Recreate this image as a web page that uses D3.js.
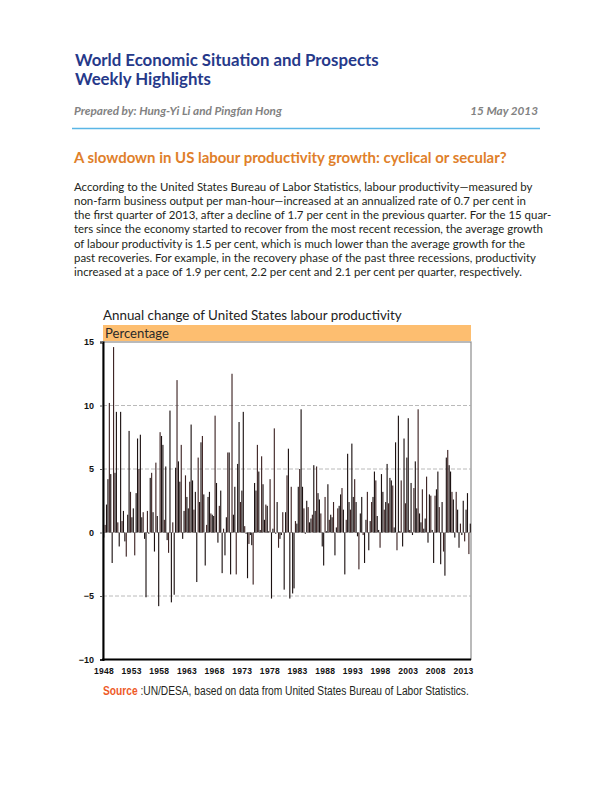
<!DOCTYPE html>
<html><head><meta charset="utf-8">
<script src="https://cdn.jsdelivr.net/npm/d3@7"></script>
<style>html,body{margin:0;padding:0;background:#fff}</style>
</head><body>
<svg id="c" width="611" height="791"></svg>
<script>
// Quarterly change (annualized, %) of US non-farm business labour productivity, 1948Q1 - 2013Q1
const values = [
 -0.4, 0.6, 2.2, 4.2, 10.2, 4.6, -2.4, 14.6, 4.7, 9.5,
 0.8, -1.1, 9.5, 0.9, 1.7, -0.7, -1.9, 1.4, 8.0, 3.2,
 1.2, 1.9, -1.8, 3.1, 7.4, 5.0, 7.7, 1.2, 1.6, -0.5,
 -5.1, 1.7, -0.1, 4.3, 4.7, 1.6, -1.5, 5.5, 1.3, -5.8,
 7.9, 7.6, 6.9, 1.0, 5.2, -0.6, -1.6, 9.6, -5.5, 0.8,
 -4.9, 5.1, 12.0, 5.6, 4.0, 6.9, -0.5, 1.7, 4.5, 2.8,
 1.9, 4.0, 8.5, 4.1, 1.8, 3.2, -3.9, 5.9, 2.4, 7.1,
 7.6, 3.0, -2.6, 0.6, 2.8, 3.2, 1.5, 1.4, 1.3, 9.2,
 3.9, -0.8, 2.1,
 3.3, -3.2, 0.3, -1.8, 1.2, 6.3, 6.3, -3.3, 12.5, 1.4,
 3.6, -3.3, 5.4, 8.7, 2.4, 3.3, 9.5, 0.5, -0.1, -3.6,
 -0.9, -0.2, -1.0, -4.1, 3.9, 3.3, 6.9, 4.8, 0.2, 6.0,
 3.8, 1.0, 2.2, 2.1, 0.1, 4.2, -5.2, 0.3, 8.2, -0.1,
 2.4, -1.2, -0.5, -0.2,
 1.6, -4.5, 1.6, 4.5, 6.6, -5.2, 3.6, -4.8, -4.4, 0.9,
 0.7, 3.6, 5.0, 9.7, 3.6, 1.9, -0.1, 2.5, 2.0, 0.8,
 1.1, 1.4, 5.3, 1.7, 5.2, 3.1, 2.6, 1.5, -1.1, -2.6,
 2.8, 0.1, 3.8, 1.0, 1.4, 1.2, 2.4, -1.8, 0.4, 1.9,
 2.1, 3.0, 3.5, 1.8, -3.3,
 1.0, 6.2, 2.4, 1.8, 7.0, 2.8, 4.2, 2.4, -0.3, -2.9,
 1.5, 2.8, -0.2, -2.4, 1.0, 3.2, -1.4, 0.9, 2.4, 2.8,
 4.8, 4.1, 1.3, 0.2, -1.2, 4.6, 3.2, 1.8, 2.4, 5.4,
 2.3, 4.3, 4.1, 3.7, 0.4, 7.1, -1.4, 9.2, 0.1, 4.1,
 -1.1, 7.4,
 2.3, 5.9, 9.0, 0.2, 3.9, -0.2, 3.5, 5.6, 1.9, 9.7,
 1.5, 0.8, 3.4, 0.3, 1.1, 4.4, -0.8, 3.0, 2.9, 0.2,
 -2.4, 2.9, 3.4, 4.8, 2.0, -2.5, 2.4, -1.5, -3.4, 5.9,
 6.5, 5.3, 4.8, 3.2, 2.6, -0.4, 3.2, 1.8, -1.2, 0.7,
 -0.2, 2.5, -0.7, 1.8, 3.1, -1.7, 0.7
];
const startYear = 1948;
const quarters = values.map((v, i) => (startYear + Math.floor(i / 4)) + "Q" + (i % 4 + 1));
const yTicks = [-10, -5, 0, 5, 10, 15];
const gridTicks = [-5, 0, 5, 10];
const yearTicks = [1948, 1953, 1958, 1963, 1968, 1973, 1978, 1983, 1988, 1993, 1998, 2003, 2008, 2013];

const titleLines = ["World Economic Situation and Prospects", "Weekly Highlights"];
const byline = "Prepared by: Hung-Yi Li and Pingfan Hong";
const dateText = "15 May 2013";
const heading = "A slowdown in US labour productivity growth: cyclical or secular?";
const paragraph = [
 "According to the United States Bureau of Labor Statistics, labour productivity\u2014measured by",
 "non-farm business output per man-hour\u2014increased at an annualized rate of 0.7 per cent in",
 "the first quarter of 2013, after a decline of 1.7 per cent in the previous quarter. For the 15 quar-",
 "ters since the economy started to recover from the most recent recession, the average growth",
 "of labour productivity is 1.5 per cent, which is much lower than the average growth for the",
 "past recoveries. For example, in the recovery phase of the past three recessions, productivity",
 "increased at a pace of 1.9 per cent, 2.2 per cent and 2.1 per cent per quarter, respectively."
];
const chartTitle = "Annual change of United States labour productivity";
const unitLabel = "Percentage";
const sourceLabel = "Source";
const sourceText = " :UN/DESA, based on data from United States Bureau of Labor Statistics.";

(function () {
const svg = d3.select("#c");
const bodyFont = "Lato, 'Noto Sans', 'Open Sans', sans-serif";

function fit(sel, width, base) {
  sel.style("font-size", base + "px");
  const w = sel.node().getComputedTextLength();
  const fs = base * width / w;
  sel.style("font-size", fs + "px");
  return fs;
}

// Header
const t1 = svg.append("text").attr("x", 75).attr("y", 66).text(titleLines[0])
  .attr("font-family", bodyFont).attr("font-weight", 700).attr("fill", "#26398a");
const tfs = fit(t1, 304, 17);
svg.append("text").attr("x", 75).attr("y", 85).text(titleLines[1])
  .attr("font-family", bodyFont).attr("font-weight", 700).attr("fill", "#26398a").style("font-size", tfs + "px");

const by = svg.append("text").attr("x", 74).attr("y", 115).text(byline)
  .attr("font-family", bodyFont).attr("font-weight", 700).attr("font-style", "italic").attr("fill", "#828282");
const bfs = fit(by, 208, 11);
svg.append("text").attr("x", 538).attr("y", 115).attr("text-anchor", "end").text(dateText)
  .attr("font-family", bodyFont).attr("font-weight", 700).attr("font-style", "italic").attr("fill", "#828282")
  .style("font-size", bfs + "px");

svg.append("line").attr("x1", 72).attr("x2", 540).attr("y1", 128.5).attr("y2", 128.5)
  .attr("stroke", "#5ab6e6").attr("stroke-width", 1.5);

const hd = svg.append("text").attr("x", 74).attr("y", 163).text(heading)
  .attr("font-family", bodyFont).attr("font-weight", 700).attr("fill", "#e0802a");
fit(hd, 433, 14);

const p0 = svg.append("text").attr("x", 74).attr("y", 190.7).text(paragraph[0])
  .attr("font-family", bodyFont).attr("fill", "#231f20");
const pfs = fit(p0, 459, 11.5);
paragraph.slice(1).forEach((line, k) => {
  svg.append("text").attr("x", 74).attr("y", 190.7 + (k + 1) * 14.2).text(line)
    .attr("font-family", bodyFont).attr("fill", "#231f20").style("font-size", pfs + "px");
});

// Chart
const pLeft = 103, pRight = 471, pTop = 342, pBottom = 659.5;
const x = d3.scaleBand().domain(quarters).range([pLeft, pRight]).paddingInner(0.2).paddingOuter(0.1);
const y = d3.scaleLinear().domain([-10, 15]).range([pBottom, pTop]);
const xYear = d3.scaleLinear().domain([1948, 2013]).range([104, 463.5]);

const ct = svg.append("text").attr("x", 103).attr("y", 319.5).text(chartTitle)
  .attr("font-family", bodyFont).attr("fill", "#222");
fit(ct, 299, 13);

svg.append("rect").attr("x", pLeft).attr("y", 325).attr("width", pRight - pLeft).attr("height", 16)
  .attr("fill", "#fdbe70");
const ul = svg.append("text").attr("x", 105).attr("y", 337.5).text(unitLabel)
  .attr("font-family", bodyFont).attr("fill", "#2a2a2a");
fit(ul, 64, 13);

// plot frame
svg.append("rect").attr("x", pLeft).attr("y", pTop).attr("width", pRight - pLeft).attr("height", pBottom - pTop)
  .attr("fill", "#fff").attr("stroke", "#8c8c8c").attr("stroke-width", 1.2);

// gridlines
svg.append("g").selectAll("line").data(gridTicks).join("line")
  .attr("x1", pLeft).attr("x2", pRight)
  .attr("y1", d => y(d)).attr("y2", d => y(d))
  .attr("stroke", "#a8a8a8").attr("stroke-width", 0.8).attr("stroke-dasharray", "4,2");

// bars
svg.append("g").selectAll("rect").data(values).join("rect")
  .attr("x", (d, i) => x(quarters[i]))
  .attr("width", x.bandwidth())
  .attr("y", d => y(Math.max(0, d)))
  .attr("height", d => Math.abs(y(d) - y(0)))
  .attr("fill", (d, i) => i % 3 === 1 ? "#3e2424" : "#1c1212");

// y axis
const yAxis = svg.append("g").attr("transform", `translate(${pLeft},0)`)
  .call(d3.axisLeft(y).tickValues(yTicks).tickSize(3).tickPadding(6).tickFormat(d3.format("d")));
yAxis.select(".domain").attr("stroke", "#000").attr("stroke-width", 2);
yAxis.selectAll(".tick line").attr("stroke", "#555");
yAxis.selectAll("text").attr("font-family", "'Liberation Sans', Arial, sans-serif")
  .attr("font-size", 9).attr("fill", "#111").attr("font-weight", 700);

// bottom line
svg.append("line").attr("x1", pLeft - 1).attr("x2", pRight).attr("y1", pBottom).attr("y2", pBottom)
  .attr("stroke", "#000").attr("stroke-width", 2);

// x labels
svg.append("g").selectAll("text").data(yearTicks).join("text")
  .attr("x", d => xYear(d)).attr("y", 673.5).attr("text-anchor", "middle")
  .attr("font-family", "'Liberation Sans', Arial, sans-serif").attr("font-size", 8.5)
  .attr("font-weight", 700).attr("fill", "#111").attr("letter-spacing", 0.3)
  .text(d => d);

// source (single text, compressed horizontally to mimic condensed face)
const src = svg.append("text").attr("x", 0).attr("y", 0)
  .attr("font-family", "'Liberation Sans', Arial, sans-serif").attr("font-size", 12.5);
src.append("tspan").attr("font-weight", 700).attr("fill", "#ee5a27").text(sourceLabel);
src.append("tspan").attr("fill", "#231f20").text(sourceText);
const sw = src.node().getComputedTextLength();
src.attr("transform", `translate(103,695) scale(${366 / sw},1)`);
})();
</script>
</body></html>
